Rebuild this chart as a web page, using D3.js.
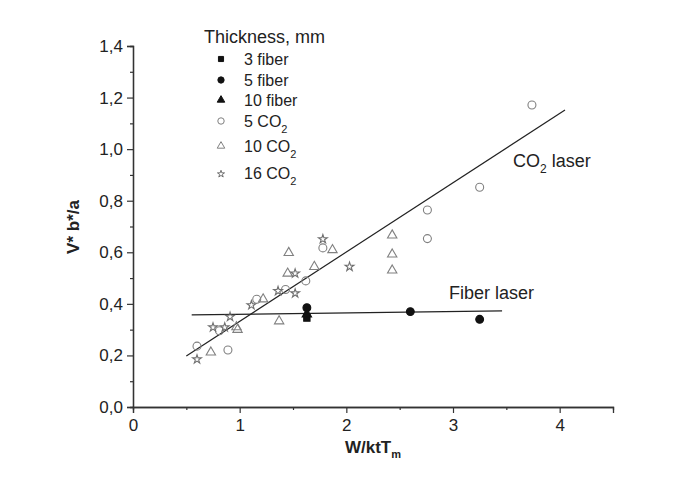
<!DOCTYPE html>
<html>
<head>
<meta charset="utf-8">
<script src="https://cdn.jsdelivr.net/npm/d3@7"></script>
<style>
  body { margin: 0; background: #fff; }
  text { font-family: Arial, "Liberation Sans", sans-serif; fill: #222; }
</style>
</head>
<body>
<div id="chart"></div>
<script>
// data: [W/ktTm, V* b*/a]
const fiber3 = [[1.63, 0.345]];
const fiber5 = [[1.63, 0.385], [2.6, 0.37], [3.25, 0.34]];
const fiber10 = [[1.63, 0.36]];
const co2_5 = [[0.6, 0.236], [0.81, 0.296], [0.89, 0.221], [1.16, 0.418], [1.43, 0.456],
               [1.62, 0.489], [1.78, 0.617], [2.76, 0.764], [2.76, 0.653], [3.25, 0.852], [3.74, 1.171]];
const co2_10 = [[0.73, 0.212], [0.97, 0.31], [0.98, 0.30], [1.22, 0.418], [1.37, 0.333],
                [1.45, 0.518], [1.46, 0.598], [1.70, 0.544], [1.87, 0.609],
                [2.43, 0.666], [2.43, 0.592], [2.43, 0.53]];
const co2_16 = [[0.6, 0.185], [0.75, 0.309], [0.86, 0.309], [0.91, 0.35], [1.11, 0.395],
                [1.36, 0.45], [1.52, 0.441], [1.52, 0.518], [1.78, 0.651], [2.03, 0.544]];
const co2Fit = [[0.5, 0.198], [4.05, 1.152]];
const fiberFit = [[0.55, 0.357], [3.46, 0.373]];
const xTicks = [0, 1, 2, 3, 4];
const yTicks = [0, 0.2, 0.4, 0.6, 0.8, 1.0, 1.2, 1.4];
const legendLabels = ["3 fiber", "5 fiber", "10 fiber", "5 CO", "10 CO", "16 CO"];

let width = 698, height = 482;

let svg = d3.select("#chart").append("svg")
    .attr("width", width)
    .attr("height", height);

let xScale = d3.scaleLinear().domain([0, 4.5]).range([133, 613]);
let yScale = d3.scaleLinear().domain([0, 1.4]).range([407, 46]);

let fmt = d => d3.format(".1f")(d).replace(".", ",");

// y axis
let yAxis = svg.append("g")
    .attr("transform", "translate(" + xScale(0) + ",0)")
    .call(d3.axisLeft(yScale).tickValues(yTicks).tickFormat(fmt).tickSize(6).tickPadding(4));
yAxis.append("g")
    .call(d3.axisLeft(yScale).tickValues(d3.range(0.1, 1.4, 0.2)).tickFormat("").tickSize(3));

// x axis
let xAxis = svg.append("g")
    .attr("transform", "translate(0," + yScale(0) + ")")
    .call(d3.axisBottom(xScale).tickValues(xTicks).tickFormat(d3.format("d")).tickSize(6).tickPadding(6));
xAxis.append("g")
    .call(d3.axisBottom(xScale).tickValues([0.5, 1.5, 2.5, 3.5]).tickFormat("").tickSize(3));

svg.selectAll(".domain").attr("stroke", "#333").attr("stroke-width", 1.3);
svg.selectAll(".tick line").attr("stroke", "#333").attr("stroke-width", 1.2);
svg.selectAll(".tick text").attr("font-size", 17).style("font-size", "17px").attr("fill", "#2a2a2a");

// fit lines
let line = d3.line().x(d => xScale(d[0])).y(d => yScale(d[1]));
[co2Fit, fiberFit].forEach(f => {
    svg.append("path").attr("d", line(f))
        .attr("fill", "none").attr("stroke", "#222").attr("stroke-width", 1.2);
});

// points
let series = [
    {data: co2_5, type: d3.symbolCircle, size: 50, fill: "none", stroke: "#808080"},
    {data: co2_10, type: d3.symbolTriangle, size: 38, fill: "none", stroke: "#808080"},
    {data: co2_16, type: d3.symbolStar, size: 24, fill: "none", stroke: "#707070"},
    {data: fiber3, type: d3.symbolSquare, size: 40, fill: "#111", stroke: "#111"},
    {data: fiber10, type: d3.symbolTriangle, size: 38, fill: "#111", stroke: "#111"},
    {data: fiber5, type: d3.symbolCircle, size: 48, fill: "#111", stroke: "#111"}
];
series.forEach(s => {
    svg.append("g").selectAll("path").data(s.data).enter().append("path")
        .attr("d", d3.symbol().type(s.type).size(s.size))
        .attr("transform", d => "translate(" + xScale(d[0]) + "," + yScale(d[1]) + ")")
        .attr("fill", s.fill).attr("stroke", s.stroke).attr("stroke-width", 1.1);
});

// legend
svg.append("text").attr("x", 204).attr("y", 43).style("font-size", "18px").text("Thickness, mm");
let legendStyle = [series[3], series[5], series[4], series[0], series[1], series[2]];
let symY = [59, 80, 100, 121, 146, 174];
let textY = [65, 86, 106, 127, 152, 179];
legendLabels.forEach((lab, i) => {
    let s = legendStyle[i];
    svg.append("path")
        .attr("d", d3.symbol().type(s.type).size(s.size * 0.65))
        .attr("transform", "translate(221," + symY[i] + ")")
        .attr("fill", s.fill).attr("stroke", s.stroke).attr("stroke-width", 1);
    let t = svg.append("text").attr("x", 244).attr("y", textY[i]).style("font-size", "16px").text(lab);
    if (i >= 3) t.append("tspan").attr("dy", 6).style("font-size", "11px").text("2");
});

// line labels
let co2Label = svg.append("text").attr("x", 513).attr("y", 167).style("font-size", "18px").text("CO");
co2Label.append("tspan").attr("dy", 6).style("font-size", "12px").text("2");
co2Label.append("tspan").attr("dy", -6).text(" laser");
svg.append("text").attr("x", 449).attr("y", 299).style("font-size", "18px").text("Fiber laser");

// axis titles
let xt = svg.append("text").attr("x", 373).attr("y", 453).attr("text-anchor", "middle")
    .style("font-size", "17px").style("font-weight", "bold").text("W/ktT");
xt.append("tspan").attr("dy", 5).style("font-size", "11px").text("m");

svg.append("text")
    .attr("transform", "translate(79,227) rotate(-90)")
    .attr("text-anchor", "middle")
    .style("font-size", "17px").style("font-weight", "bold")
    .text("V* b*/a");
</script>
</body>
</html>
